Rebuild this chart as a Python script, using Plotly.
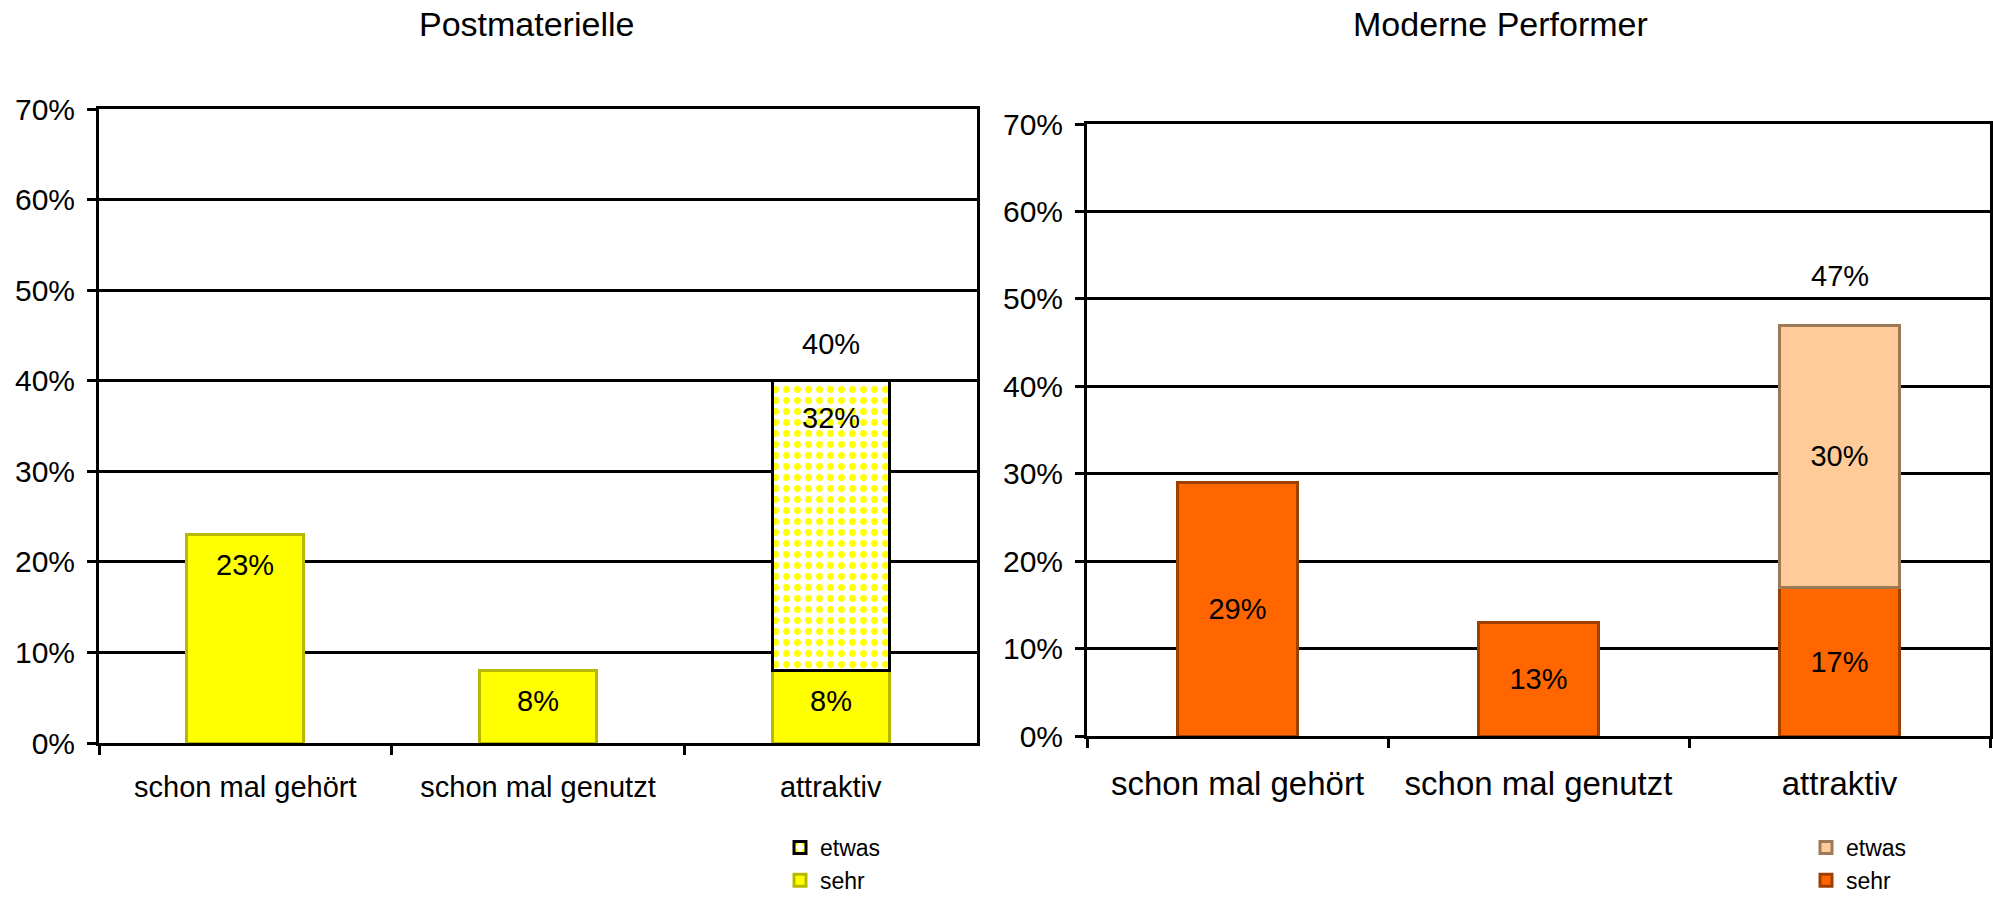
import plotly.graph_objects as go

categories = ["schon mal gehört", "schon mal genutzt", "attraktiv"]
series_names = ["sehr", "etwas"]

post_sehr = [23, 8, 8]
post_etwas = [None, None, 32]

mod_sehr = [29, 13, 17]
mod_etwas = [None, None, 30]

titles = ["Postmaterielle", "Moderne Performer"]
y_ticks = [0, 10, 20, 30, 40, 50, 60, 70]
y_tick_labels = ["0%", "10%", "20%", "30%", "40%", "50%", "60%", "70%"]

FONT = "Liberation Sans, Arial, sans-serif"
W, H = 1993, 898


def pct(v):
    return f"{v}%"


fig = go.Figure()

# ---- Left: Postmaterielle ----
fig.add_trace(go.Bar(
    x=categories, y=post_sehr, name=series_names[0], xaxis="x", yaxis="y",
    marker=dict(color="#FFFF00", line=dict(color="#B8B800", width=3)),
    legend="legend", hoverinfo="skip",
))
fig.add_trace(go.Bar(
    x=categories, y=post_etwas, name=series_names[1], xaxis="x", yaxis="y",
    marker=dict(color="white", line=dict(color="black", width=3),
                pattern=dict(shape=".", fgcolor="#FFFF00", bgcolor="white",
                             fillmode="replace", size=11, solidity=0.3)),
    legend="legend", hoverinfo="skip",
))

# ---- Right: Moderne Performer ----
fig.add_trace(go.Bar(
    x=categories, y=mod_sehr, name=series_names[0], xaxis="x2", yaxis="y2",
    marker=dict(color="#FF6600", line=dict(color="#A04000", width=3)),
    text=[pct(v) for v in mod_sehr], textposition="inside",
    insidetextanchor="middle", textangle=0,
    textfont=dict(family=FONT, size=29, color="black"),
    legend="legend2", hoverinfo="skip",
))
fig.add_trace(go.Bar(
    x=categories, y=mod_etwas, name=series_names[1], xaxis="x2", yaxis="y2",
    marker=dict(color="#FFCC99", line=dict(color="#9C7A58", width=3)),
    text=[pct(v) if v is not None else "" for v in mod_etwas], textposition="inside",
    insidetextanchor="middle", textangle=0,
    textfont=dict(family=FONT, size=29, color="black"),
    legend="legend2", hoverinfo="skip",
))

annotations = []
# left value labels
for c, v in zip(categories, post_sehr):
    annotations.append(dict(x=c, y=v, xref="x", yref="y", text=pct(v), showarrow=False,
                            yshift=-30, font=dict(family=FONT, size=29, color="black")))
for c, s, e in zip(categories, post_sehr, post_etwas):
    if e is not None:
        annotations.append(dict(x=c, y=s + e, xref="x", yref="y", text=pct(e), showarrow=False,
                                yshift=-37, font=dict(family=FONT, size=29, color="black")))
        annotations.append(dict(x=c, y=s + e, xref="x", yref="y", text=pct(s + e), showarrow=False,
                                yshift=37, font=dict(family=FONT, size=29, color="black")))
for c, s, e in zip(categories, mod_sehr, mod_etwas):
    if e is not None:
        annotations.append(dict(x=c, y=s + e, xref="x2", yref="y2", text=pct(s + e), showarrow=False,
                                yshift=49, font=dict(family=FONT, size=29, color="black")))

# titles
annotations.append(dict(x=526 / W, y=1 - 24 / H, xref="paper", yref="paper", text=titles[0],
                        showarrow=False, xanchor="center", yanchor="middle",
                        font=dict(family=FONT, size=34, color="black")))
annotations.append(dict(x=1500 / W, y=1 - 24 / H, xref="paper", yref="paper", text=titles[1],
                        showarrow=False, xanchor="center", yanchor="middle",
                        font=dict(family=FONT, size=34, color="black")))

axis_common = dict(showline=True, linecolor="black", linewidth=3, mirror=True,
                   ticks="outside", ticklen=9, tickwidth=3, tickcolor="black",
                   zeroline=False, automargin=False)


def yaxis(domain, anchor):
    return dict(domain=domain, anchor=anchor, range=[0, 70], tickmode="array",
                tickvals=y_ticks, ticktext=y_tick_labels,
                showgrid=True, gridcolor="black", gridwidth=3,
                tickfont=dict(family=FONT, size=30, color="black"),
                ticklabelstandoff=6, fixedrange=True, **axis_common)


def xaxis(domain, anchor, fsize, standoff):
    return dict(domain=domain, anchor=anchor, type="category", tickson="boundaries",
                categoryorder="array", categoryarray=categories, showgrid=False,
                tickfont=dict(family=FONT, size=fsize, color="black"),
                ticklabelstandoff=standoff, fixedrange=True, **axis_common)


fig.update_layout(
    width=W, height=H, margin=dict(l=0, r=0, t=0, b=0, autoexpand=False),
    paper_bgcolor="white", plot_bgcolor="white",
    barmode="stack", bargap=0.6, showlegend=True,
    xaxis=xaxis([99 / W, 977 / W], "y", 29, 16),
    yaxis=yaxis([1 - 743 / H, 1 - 109 / H], "x"),
    xaxis2=xaxis([1087 / W, 1990 / W], "y2", 33, 16),
    yaxis2=yaxis([1 - 736 / H, 1 - 124 / H], "x2"),
    legend=dict(x=780 / W, y=1 - 826 / H, xanchor="left", yanchor="top",
                traceorder="reversed", font=dict(family=FONT, size=23, color="black"),
                bgcolor="rgba(0,0,0,0)", tracegroupgap=0, itemclick=False),
    legend2=dict(x=1806 / W, y=1 - 826 / H, xanchor="left", yanchor="top",
                 traceorder="reversed", font=dict(family=FONT, size=23, color="black"),
                 bgcolor="rgba(0,0,0,0)", tracegroupgap=0, itemclick=False),
    annotations=annotations,
    font=dict(family=FONT, color="black"),
)

fig.write_html("out.html", config={"displayModeBar": False},
               post_script="document.body.style.margin='0';document.body.style.overflow='hidden';")
